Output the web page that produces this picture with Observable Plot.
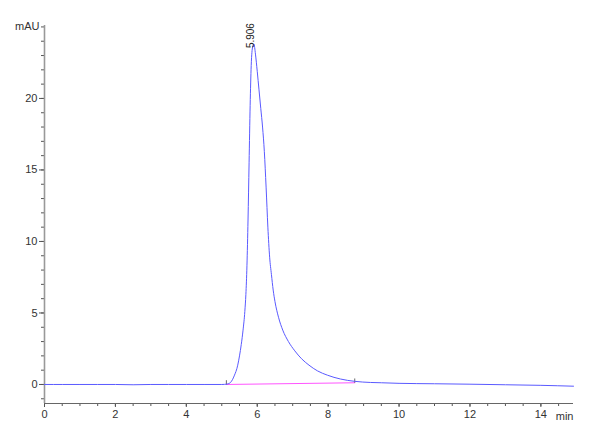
<!DOCTYPE html>
<html>
<head>
<meta charset="utf-8">
<script src="https://cdn.jsdelivr.net/npm/d3@7"></script>
<script src="https://cdn.jsdelivr.net/npm/@observablehq/plot@0.6"></script>
<style>
  html, body { margin: 0; padding: 0; background: #fff; }
  #chart svg { display: block; }
</style>
</head>
<body>
<div id="chart"></div>
<script>
// Retention time (min) and absorbance (mAU)
const time = [0, 0.5, 1, 1.5, 2, 2.5, 3, 3.5, 4, 4.5, 5.0, 5.15, 5.25, 5.35, 5.45, 5.5, 5.55, 5.6, 5.65, 5.68, 5.71, 5.74, 5.77, 5.80, 5.83, 5.87, 5.906, 5.95, 6.0, 6.05, 6.1, 6.15, 6.2, 6.25, 6.3, 6.35, 6.4, 6.45, 6.5, 6.6, 6.72, 6.88, 7.06, 7.25, 7.46, 7.7, 7.98, 8.35, 8.75, 9.2, 9.5, 10, 11, 12, 13, 14, 14.92];
const signal = [0, 0, 0, 0, 0, -0.02, 0, 0, 0, 0, 0, 0.03, 0.15, 0.6, 1.35, 2.0, 2.8, 3.8, 5.1, 6.3, 8.3, 11.5, 15.5, 19.5, 22.3, 23.6, 23.8, 23.1, 21.9, 20.6, 19.3, 18.0, 16.3, 13.8, 11.0, 8.9, 7.7, 6.6, 5.8, 4.7, 3.8, 3.0, 2.35, 1.8, 1.35, 0.95, 0.65, 0.38, 0.22, 0.14, 0.12, 0.08, 0.05, 0.02, -0.02, -0.06, -0.12];

// Integration baseline of the peak
const baseTime = [5.13, 8.75];
const baseSignal = [0.0, 0.12];

// Peak annotation
const peakTimes = [5.906];
const peakHeights = [23.8];
const peakLabels = ["5.906"];

// Axis ticks
const xMajor = [0, 2, 4, 6, 8, 10, 12, 14];
const xMinor = d3.range(0, 15, 0.5);
const yMajor = [0, 5, 10, 15, 20];
const yMinor = d3.range(-1, 26, 1);
const xDomain = [0, 14.92];
const yDomain = [-1.33, 25.1];

const trace = time.map((t, i) => ({t, v: signal[i]}));
const baseline = baseTime.map((t, i) => ({t, v: baseSignal[i]}));
const peaks = peakTimes.map((t, i) => ({t, v: peakHeights[i], label: peakLabels[i]}));
const baseMarks = baseTime.map((t, i) => ({t, v1: baseSignal[i], v2: baseSignal[i] + 0.3}));

const font = "Liberation Sans, Arial, sans-serif";

const chart = Plot.plot({
  width: 600,
  height: 440,
  marginLeft: 44,
  marginRight: 27,
  marginTop: 25,
  marginBottom: 37,
  style: {fontFamily: font, fontSize: "11px", color: "#333", background: "#fff"},
  x: {domain: xDomain, label: null},
  y: {domain: yDomain, label: null},
  marks: [
    // minor ticks
    Plot.axisY({ticks: yMinor, tickSize: 3, text: null, label: null, stroke: "#555"}),
    Plot.axisX({ticks: xMinor, tickSize: 3, text: null, label: null, stroke: "#555"}),
    // major ticks with labels
    Plot.axisY({ticks: yMajor, tickSize: 5, tickPadding: 2, label: null, stroke: "#555", fill: "#333", fontSize: 11}),
    Plot.axisX({ticks: xMajor, tickSize: 4, tickPadding: 3, label: null, stroke: "#555", fill: "#333", fontSize: 11}),
    // axis lines
    Plot.ruleX([0], {stroke: "#999", strokeWidth: 1.6}),
    Plot.ruleY([yDomain[0]], {stroke: "#666", strokeWidth: 1.2}),
    // unit labels
    Plot.text(["mAU"], {x: 0, y: 25, text: d => d, textAnchor: "end", dx: -5, fill: "#333", fontSize: 11}),
    Plot.text(["min"], {x: xDomain[1], y: yDomain[0], text: d => d, textAnchor: "end", dy: 13, fill: "#333", fontSize: 11}),
    // integration baseline
    Plot.line(baseline, {x: "t", y: "v", stroke: "#ff55ff", strokeWidth: 1}),
    Plot.link(baseMarks, {x1: "t", x2: "t", y1: "v1", y2: "v2", stroke: "#444", strokeWidth: 0.8}),
    // signal trace
    Plot.line(trace, {x: "t", y: "v", stroke: "#5a5aff", strokeWidth: 1, curve: "monotone-x"}),
    // peak label
    Plot.text(peaks, {x: "t", y: "v", text: "label", rotate: -90, textAnchor: "start", dy: 4, dx: -3, fill: "#222", fontSize: 10})
  ]
});

document.getElementById("chart").appendChild(chart);
</script>
</body>
</html>
